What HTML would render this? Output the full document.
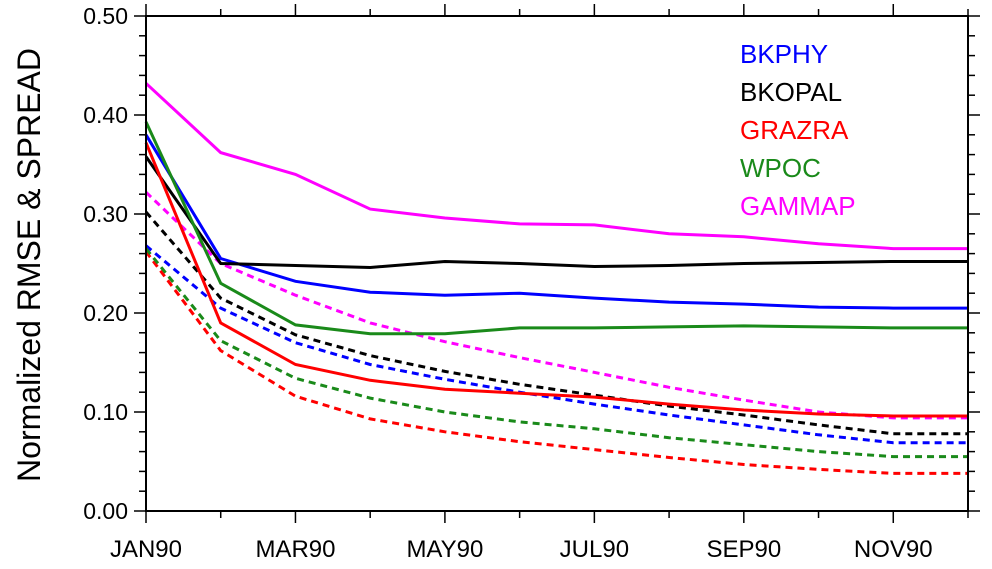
<!DOCTYPE html>
<html><head><meta charset="utf-8"><style>
body{margin:0;background:#fff;}
svg{display:block;font-family:"Liberation Sans",Arial,sans-serif;}
</style></head><body>
<svg id="chart" width="992" height="569" viewBox="0 0 992 569"></svg>
<script>
const months=["JAN90","FEB90","MAR90","APR90","MAY90","JUN90","JUL90","AUG90","SEP90","OCT90","NOV90","DEC90"];
const xLabels=["JAN90","MAR90","MAY90","JUL90","SEP90","NOV90"];
const yTicks=[0.0,0.1,0.2,0.3,0.4,0.5];
const seriesNames=["BKPHY","BKOPAL","GRAZRA","WPOC","GAMMAP"];
const seriesColors=["#0000ff","#000000","#ff0000","#1a8a1a","#ff00ff"];
const rmseBKPHY=[0.380,0.255,0.232,0.221,0.218,0.220,0.215,0.211,0.209,0.206,0.205,0.205];
const rmseBKOPAL=[0.358,0.250,0.248,0.246,0.252,0.250,0.247,0.248,0.250,0.251,0.252,0.252];
const rmseGRAZRA=[0.372,0.190,0.148,0.132,0.123,0.119,0.115,0.108,0.102,0.098,0.096,0.096];
const rmseWPOC=[0.393,0.230,0.188,0.179,0.179,0.185,0.185,0.186,0.187,0.186,0.185,0.185];
const rmseGAMMAP=[0.432,0.362,0.340,0.305,0.296,0.290,0.289,0.280,0.277,0.270,0.265,0.265];
const sprBKPHY=[0.268,0.205,0.170,0.148,0.133,0.120,0.108,0.097,0.087,0.077,0.069,0.069];
const sprBKOPAL=[0.302,0.215,0.178,0.157,0.141,0.128,0.117,0.106,0.097,0.087,0.078,0.078];
const sprGRAZRA=[0.262,0.162,0.116,0.093,0.080,0.070,0.062,0.054,0.047,0.042,0.038,0.038];
const sprWPOC=[0.265,0.172,0.134,0.114,0.100,0.090,0.083,0.074,0.067,0.060,0.055,0.055];
const sprGAMMAP=[0.322,0.250,0.218,0.190,0.171,0.155,0.140,0.125,0.112,0.100,0.094,0.094];

const rmse=[rmseBKPHY,rmseBKOPAL,rmseGRAZRA,rmseWPOC,rmseGAMMAP];
const spr=[sprBKPHY,sprBKOPAL,sprGRAZRA,sprWPOC,sprGAMMAP];
const L=146,R=968,T=16,B=511;
const x=i=>L+(R-L)*i/(months.length-1);
const y=v=>B-(B-T)*v/0.5;
const svg=document.getElementById('chart');
const NS="http://www.w3.org/2000/svg";
function mk(tag,attrs,parent){const e=document.createElementNS(NS,tag);for(const k in attrs)e.setAttribute(k,attrs[k]);(parent||svg).appendChild(e);return e;}

const gS=mk('g',{});


for(let s=0;s<5;s++){
  const pd=spr[s].map((v,i)=>x(i).toFixed(1)+','+y(v).toFixed(1)).join(' ');
  const l=mk('polyline',{points:pd,fill:'none',stroke:seriesColors[s],'stroke-width':3,'stroke-dasharray':'7,5'},gS);
  
  
}
for(let s=0;s<5;s++){
  const pd=rmse[s].map((v,i)=>x(i).toFixed(1)+','+y(v).toFixed(1)).join(' ');
  const l=mk('polyline',{points:pd,fill:'none',stroke:seriesColors[s],'stroke-width':3},gS);
  
  
}

const fr=mk('rect',{x:L,y:T,width:R-L,height:B-T,fill:'none',stroke:'#000','stroke-width':2});



for(let k=0;k<=25;k++){
  const v=k*0.02, yy=y(v), major=(k%5===0), len=major?12:7;
  mk('line',{x1:L,x2:L-len,y1:yy,y2:yy,stroke:'#000','stroke-width':1.5});
  mk('line',{x1:R,x2:R+len,y1:yy,y2:yy,stroke:'#000','stroke-width':1.5});
}
yTicks.forEach(v=>{
  const t=mk('text',{x:L-18,y:y(v)+8,'text-anchor':'end','font-size':23});
  t.textContent=v.toFixed(2);
  
  
});
for(let i=0;i<months.length;i++){
  const major=(i%2===0), len=major?12:7;
  mk('line',{x1:x(i),x2:x(i),y1:B,y2:B+len,stroke:'#000','stroke-width':1.5});
  mk('line',{x1:x(i),x2:x(i),y1:T,y2:T-len,stroke:'#000','stroke-width':1.5});
}
xLabels.forEach(lab=>{
  const i=months.indexOf(lab);
  const t=mk('text',{x:x(i),y:B+46,'text-anchor':'middle','font-size':24});
  t.textContent=lab;
  
  
});
const yt=mk('text',{x:0,y:0,'text-anchor':'middle','font-size':32,transform:'translate(40,265) rotate(-90)'});
yt.textContent='Normalized RMSE & SPREAD';



seriesNames.forEach((n,s)=>{
  const t=mk('text',{x:740,y:63+s*38,'font-size':26,fill:seriesColors[s]});
  t.textContent=n;
  
  
});
</script>
</body></html>
